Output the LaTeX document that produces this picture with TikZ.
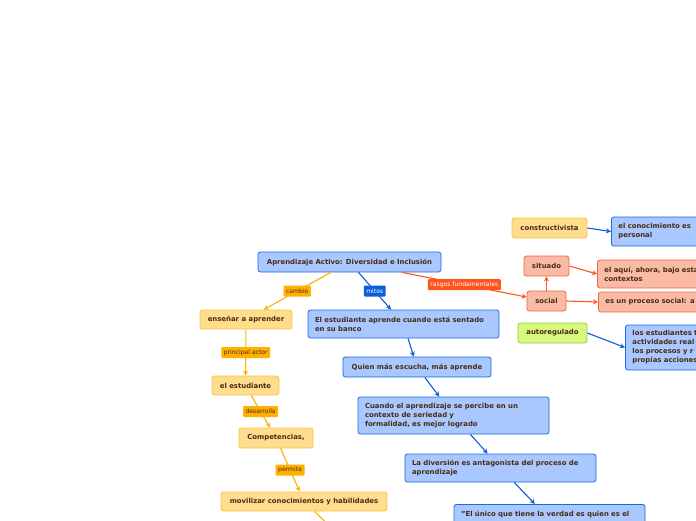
\documentclass[tikz,border=0pt]{standalone}
\usepackage{fontspec}
\setmainfont{DejaVu Sans}
\usetikzlibrary{arrows.meta,positioning}
\definecolor{txtbrown}{HTML}{4A2A12}
\definecolor{ylfill}{HTML}{FFDD8E}
\definecolor{ylline}{HTML}{FFC040}
\definecolor{yllabel}{HTML}{FFB000}
\definecolor{blfill}{HTML}{A8C8FF}
\definecolor{blline}{HTML}{1A6AE0}
\definecolor{bllabel}{HTML}{0B5ED7}
\definecolor{rdfill}{HTML}{F9BBA6}
\definecolor{rdline}{HTML}{F4673A}
\definecolor{rdlabel}{HTML}{FF5320}
\definecolor{grfill}{HTML}{D6F87E}
\definecolor{grline}{HTML}{9CCF3C}

\begin{document}
\begin{tikzpicture}[
					x=1pt, y=-1pt,
					mapbox/.style={
							rectangle,
							rounded corners=2.5pt,
							line width=0.8pt,
							inner xsep=7pt,
							inner ysep=3pt,
							minimum height=20pt,
							text=txtbrown,
							font=\fontsize{6.9}{9}\selectfont\bfseries
						},
					ybox/.style={mapbox, fill=ylfill, draw=ylline, align=center},
					bbox/.style={mapbox, fill=blfill, draw=blline, align=left},
					rbox/.style={mapbox, fill=rdfill, draw=rdline, align=left},
					gbox/.style={mapbox, fill=grfill, draw=grline, align=center},
					edge_label/.style={
							rectangle,
							rounded corners=1pt,
							inner xsep=2.5pt,
							inner ysep=1.5pt,
							minimum height=11pt,
							font=\fontsize{6.1}{7}\selectfont,
							midway
						},
					ylabel/.style={edge_label, fill=yllabel, text=txtbrown},
					blabel/.style={edge_label, fill=bllabel, text=white},
					rlabel/.style={edge_label, fill=rdlabel, text=white},
					yarrow/.style={->, line width=1.1pt, draw=yllabel},
					barrow/.style={->, line width=1.1pt, draw=bllabel},
					rarrow/.style={->, line width=1.1pt, draw=rdlabel},
					>={Stealth[length=5pt,width=5pt]}
				]
				\useasboundingbox (0,0) rectangle (696,520);
				\clip (0,0) rectangle (696,520);

				\node[bbox, align=center, minimum width=183pt] (root) at (349.5,262) {Aprendizaje Activo: Diversidad e Inclusión};

				\node[ybox, minimum width=92pt, minimum height=19pt] (ensenar) at (246,319.5) {enseñar a aprender};
				\node[ybox, minimum width=67pt, minimum height=19pt] (estudiante) at (245.5,385.5) {el estudiante};
				\node[ybox, minimum width=74pt] (competencias) at (276,438) {Competencias,};
				\node[ybox, minimum width=166pt, minimum height=19pt] (movilizar) at (304,501.5) {movilizar conocimientos y habilidades};
				\coordinate (siguiente) at (336,532);

				\node[bbox, text width=177pt, minimum height=28pt] (mitoA) at (403.5,324) {El estudiante aprende cuando está sentado\\en su banco};
				\node[bbox, align=center, minimum width=148pt] (mitoB) at (417,367) {Quien más escucha, más aprende};
				\node[bbox, text width=177pt, minimum height=37pt] (mitoC) at (453.5,415.5) {Cuando el aprendizaje se percibe en un\\contexto de seriedad y\\formalidad, es mejor logrado};
				\node[bbox, text width=177pt, minimum height=28pt] (mitoD) at (500.5,468) {La diversión es antagonista del proceso de\\aprendizaje};
				\node[bbox, text width=177pt, minimum height=30pt, anchor=north, text depth=12pt] (mitoE) at (549.5,504) {"El único que tiene la verdad es quien es el};

				\node[ybox, minimum width=75pt] (constructivista) at (549.5,228) {constructivista};
				\node[bbox, text width=120pt, minimum height=29pt, anchor=west] (conocimiento) at (611,231.5) {el conocimiento es\\personal};
				\node[rbox, align=center, minimum width=45pt] (situado) at (546.5,266) {situado};
				\node[rbox, text width=120pt, minimum height=28pt, anchor=west] (aqui) at (597,274) {el aquí, ahora, bajo esta\\contextos};
				\node[rbox, align=center, minimum width=39pt] (social) at (546.5,301) {social};
				\node[rbox, text width=120pt, anchor=west] (proceso) at (598,302) {es un proceso social: a};
				\node[gbox, minimum width=69pt] (autoregulado) at (552.5,333) {autoregulado};
				\node[bbox, text width=120pt, minimum height=45pt, anchor=west] (autorreg) at (625,347.5) {los estudiantes t\\actividades real\\los procesos y r\\propias acciones};

				\draw[yarrow] (root) -- (ensenar) node[ylabel] {cambio};
				\draw[barrow] (root) -- (mitoA) node[blabel] {mitos};
				\draw[rarrow] (root) -- (social) node[rlabel] {rasgos fundamentales};

				\draw[yarrow] (ensenar) -- (estudiante) node[ylabel] {principal actor};
				\draw[yarrow] (estudiante) -- (competencias) node[ylabel] {desarrolla};
				\draw[yarrow] (competencias) -- (movilizar) node[ylabel] {permite};
				\draw[yarrow] (movilizar) -- (siguiente);

				\draw[barrow] (mitoA) -- (mitoB);
				\draw[barrow] (mitoB) -- (mitoC);
				\draw[barrow] (mitoC) -- (mitoD);
				\draw[barrow] (mitoD) -- (mitoE);

				\draw[barrow] (constructivista.east) -- (conocimiento.west);
				\draw[rarrow] (situado.east) -- (aqui.west);
				\draw[rarrow] (social.north) -- (situado.south);
				\draw[rarrow] (social.east) -- (proceso.west);
				\draw[barrow] (autoregulado.east) -- (autorreg.west);
		\end{tikzpicture}
\end{document}
